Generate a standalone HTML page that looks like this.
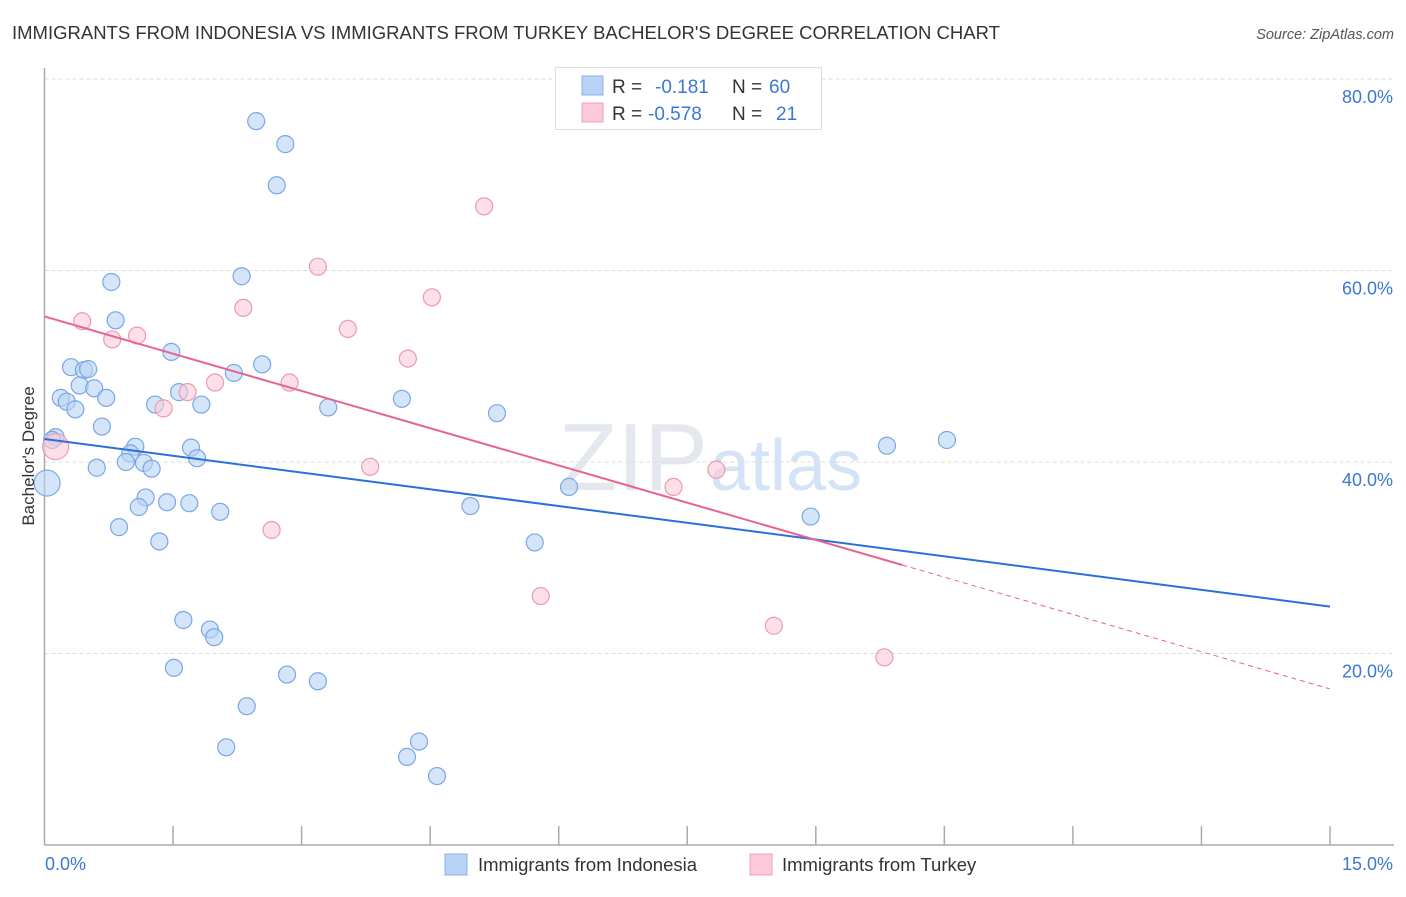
<!DOCTYPE html>
<html><head><meta charset="utf-8"><style>
body{margin:0;background:#fff;font-family:"Liberation Sans",sans-serif;}
svg text{font-family:"Liberation Sans",sans-serif;}
</style></head><body>
<svg id="chart" width="1406" height="892" xmlns="http://www.w3.org/2000/svg">
<text x="12" y="39" font-size="18.5" fill="#333">IMMIGRANTS FROM INDONESIA VS IMMIGRANTS FROM TURKEY BACHELOR'S DEGREE CORRELATION CHART</text>
<text x="1394" y="39" font-size="14.5" fill="#555" font-style="italic" text-anchor="end">Source: ZipAtlas.com</text>
<text x="708" y="490" font-size="96" fill="#e4e8ee" text-anchor="end" font-family="Liberation Serif">ZIP</text>
<text x="710" y="490" font-size="72" fill="#d4e3f5">atlas</text>
<g id="grid"></g><g id="axes"></g><g id="marks"></g>
<text transform="translate(34,456) rotate(-90)" font-size="17" fill="#333" text-anchor="middle">Bachelor's Degree</text>
<g>
<rect x="555.5" y="67.5" width="266" height="62" fill="#fff" stroke="#ddd"/>
<rect x="582" y="76" width="21" height="19" fill="#b8d3f5" stroke="#88b0e6"/>
<rect x="582" y="103" width="21" height="19" fill="#fcc9d8" stroke="#f0a0ba"/>
<text x="612" y="93" font-size="19" fill="#333">R = </text><text x="655" y="93" font-size="19" fill="#3a78d4">-0.181</text>
<text x="732" y="93" font-size="19" fill="#333">N = </text><text x="769" y="93" font-size="19" fill="#3a78d4">60</text>
<text x="612" y="120" font-size="19" fill="#333">R = </text><text x="648" y="120" font-size="19" fill="#3a78d4">-0.578</text>
<text x="732" y="120" font-size="19" fill="#333">N = </text><text x="776" y="120" font-size="19" fill="#3a78d4">21</text>
</g>
<g>
<rect x="445" y="854" width="22" height="21" fill="#b8d3f5" stroke="#88b0e6"/>
<text x="478" y="871" font-size="18.5" fill="#333">Immigrants from Indonesia</text>
<rect x="750" y="854" width="22" height="21" fill="#fcc9d8" stroke="#f0a0ba"/>
<text x="782" y="871" font-size="18.5" fill="#333">Immigrants from Turkey</text>
</g>
</svg>
<script>
const indoX=[2.47,2.81,2.71,2.30,0.78,0.83,1.48,0.31,0.46,0.51,2.54,2.21,0.41,0.58,1.57,0.72,0.19,0.26,0.36,1.29,1.83,3.31,4.17,5.28,0.67,0.13,0.09,1.06,1.71,1.00,1.78,0.95,1.16,1.25,0.61,0.03,6.12,1.18,1.43,1.69,1.10,2.05,4.97,0.87,8.94,1.34,5.72,9.83,10.53,1.62,1.93,1.98,1.51,2.83,3.19,2.36,2.12,4.37,4.23,4.58];
const indoY=[75.6,73.2,68.9,59.4,58.8,54.8,51.5,49.9,49.6,49.7,50.2,49.3,48.0,47.7,47.3,46.7,46.7,46.3,45.5,46.0,46.0,45.7,46.6,45.1,43.7,42.6,42.3,41.6,41.5,40.9,40.4,40.0,39.9,39.3,39.4,37.8,37.4,36.3,35.8,35.7,35.3,34.8,35.4,33.2,34.3,31.7,31.6,41.7,42.3,23.5,22.5,21.7,18.5,17.8,17.1,14.5,10.2,10.8,9.2,7.2];
const turkX=[0.44,0.79,1.08,2.32,3.19,5.13,4.52,3.54,4.24,1.99,2.86,1.67,1.39,0.13,3.80,2.65,5.79,7.34,7.84,8.51,9.80];
const turkY=[54.7,52.8,53.2,56.1,60.4,66.7,57.2,53.9,50.8,48.3,48.3,47.3,45.6,41.6,39.5,32.9,26.0,37.4,39.2,22.9,19.6];
const indoTrend=[42.4,24.9];
const turkTrend=[55.2,16.3];
const turkSolidEnd=10.01;
const yTicks=[20,40,60,80];
const xTickCount=10;
const NS="http://www.w3.org/2000/svg";
const X0=44.5,X1=1330,Y0=845,PPY=9.575;
const sx=v=>X0+(X1-X0)*v/15, sy=v=>Y0-v*PPY;
function mk(tag,attrs,parent){const e=document.createElementNS(NS,tag);for(const k in attrs)e.setAttribute(k,attrs[k]);parent.appendChild(e);return e;}
const grid=document.getElementById('grid'),axes=document.getElementById('axes'),marks=document.getElementById('marks');
yTicks.forEach(t=>{
 const l=mk('line',{x1:X0,x2:1394,y1:sy(t),y2:sy(t),stroke:'#ddd','stroke-dasharray':'4,3'},grid);
 
 
 const tx=mk('text',{x:1393,y:sy(t)+24,'font-size':18,fill:'#3a78d4','text-anchor':'end'},axes);
 tx.textContent=t.toFixed(1)+'%';
 
 
});
const ya=mk('line',{x1:X0,x2:X0,y1:68,y2:Y0,stroke:'#aaa','stroke-width':1.5},axes);


const xa=mk('line',{x1:X0,x2:1394,y1:Y0,y2:Y0,stroke:'#aaa','stroke-width':1.5},axes);


for(let i=1;i<=xTickCount;i++){
 const x=sx(15*i/xTickCount);
 const t=mk('line',{x1:x,x2:x,y1:826,y2:Y0,stroke:'#aaa','stroke-width':1.5},axes);
 
 
}
[['0.0%',45,'start'],['15.0%',1393,'end']].forEach(a=>{
 const t=mk('text',{x:a[1],y:870,'font-size':18,fill:'#3a78d4','text-anchor':a[2]},axes);
 t.textContent=a[0];
 
 
});
function pts(xs,ys,fill,stroke,name,bigIdx){
 xs.forEach((v,i)=>{
  const c=mk('circle',{cx:sx(v),cy:sy(ys[i]),r:i===bigIdx?13:8.5,fill:fill,'fill-opacity':0.6,stroke:stroke,'stroke-width':1.2},marks);
  
  
 });
}
pts(indoX,indoY,'#b8d3f5','#7aa7e3','indonesia-point',35);
pts(turkX,turkY,'#fcc9d8','#eb9ab5','turkey-point',13);
const bl=mk('line',{x1:sx(0),y1:sy(indoTrend[0]),x2:sx(15),y2:sy(indoTrend[1]),stroke:'#2a6fdb','stroke-width':2},marks);


const ty=x=>turkTrend[0]+(turkTrend[1]-turkTrend[0])*x/15;
const pl=mk('line',{x1:sx(0),y1:sy(ty(0)),x2:sx(turkSolidEnd),y2:sy(ty(turkSolidEnd)),stroke:'#e8638f','stroke-width':2},marks);


const pd=mk('line',{x1:sx(turkSolidEnd),y1:sy(ty(turkSolidEnd)),x2:sx(15),y2:sy(ty(15)),stroke:'#e8638f','stroke-width':1,'stroke-dasharray':'5,4'},marks);


</script>
</body></html>
